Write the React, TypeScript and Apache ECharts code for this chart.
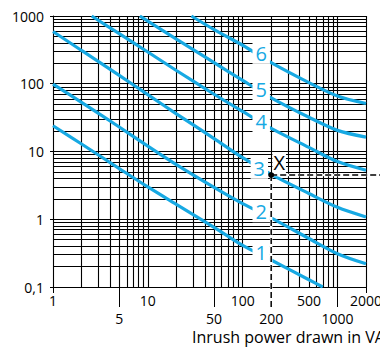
import React, { useEffect, useRef } from 'react';
import * as echarts from 'echarts';

// Curves (x = inrush power in VA, y = value)
const curve1: [number, number][] = [[1, 24], [2, 12.9], [5, 5.6], [10, 3.0], [20, 1.66], [50, 0.76], [100, 0.41], [200, 0.25], [500, 0.128], [700, 0.1]];
const curve2: [number, number][] = [[1, 99], [2, 53], [5, 23], [10, 12], [20, 6.4], [50, 2.95], [100, 1.7], [200, 1.05], [500, 0.52], [1000, 0.31], [2000, 0.22]];
const curve3: [number, number][] = [[1, 590], [2, 310], [5, 133], [10, 69], [20, 36], [50, 15.5], [100, 8.1], [200, 4.6], [500, 2.4], [1000, 1.5], [2000, 1.08]];
const curve4: [number, number][] = [[2.56, 1000], [5, 548], [10, 294], [20, 157], [50, 70], [100, 39], [200, 22], [500, 11.5], [1000, 7.1], [2000, 5.3]];
const curve5: [number, number][] = [[8.24, 1000], [10, 840], [20, 455], [50, 205], [100, 112], [200, 62], [500, 32], [1000, 20.5], [2000, 16.3]];
const curve6: [number, number][] = [[28.8, 1000], [50, 630], [100, 370], [200, 205], [500, 104], [1000, 66], [2000, 51]];

const curveNames = ['1', '2', '3', '4', '5', '6'];
const curveLabelPoints: [number, number][] = [[157, 0.325], [157, 1.29], [150, 5.65], [157, 27.5], [157, 81], [157, 281]];

const xLabelsRow1 = [1, 10, 100, 500, 2000];
const xLabelsRow2 = [5, 50, 200, 1000];
const xShortTicks = [1, 2000];
const xLongTicks = [5, 50, 1000];

const pointX: [number, number] = [200, 4.5];
const pointXLabel = 'X';
const xTitle = 'Inrush power drawn in VA';

const multipliers = [1, 2, 3, 4, 5, 6, 7, 8, 9];
const xDecades = [1, 10, 100];
const yDecades = [0.1, 1, 10, 100];
const gridX: number[] = [...xDecades.flatMap(d => multipliers.map(m => m * d)), 1000, 2000];
const gridY: number[] = [...yDecades.flatMap(d => multipliers.map(m => +(m * d).toPrecision(3))), 1000];

const BLUE = '#17A9E3';
const FONT = '"Open Sans", "DejaVu Sans", sans-serif';

export default function App() {
  const ref = useRef<HTMLDivElement>(null);
  useEffect(() => {
    if (!ref.current) return;
    const chart = echarts.init(ref.current, undefined, { renderer: 'svg' });
    const curves = [curve1, curve2, curve3, curve4, curve5, curve6];
    const option: any = {
      animation: false,
      grid: { left: 53, top: 16, width: 313, height: 271, containLabel: false },
      xAxis: {
        type: 'log', logBase: 10, min: 1, max: 2000,
        axisLine: { show: true, lineStyle: { color: '#000', width: 1 } },
        axisTick: { show: false },
        axisLabel: { show: false },
        splitLine: { show: false },
      },
      yAxis: {
        type: 'log', logBase: 10, min: 0.1, max: 1000,
        axisLine: { show: true, lineStyle: { color: '#000', width: 1 } },
        axisTick: { show: true, length: 3, lineStyle: { color: '#000' } },
        axisLabel: {
          show: true, margin: 9, color: '#000', fontSize: 14, fontFamily: FONT,
          formatter: (v: number) => String(+v.toPrecision(6)).replace('.', ','),
        },
        splitLine: { show: false },
      },
      series: [
        {
          type: 'line', data: [], silent: true, z: 1,
          markLine: {
            silent: true, symbol: ['none', 'none'], z: 1, animation: false,
            label: { show: false },
            lineStyle: { color: '#000', width: 1.1, type: 'solid', opacity: 1 },
            emphasis: { disabled: true },
            data: [
              ...gridX.map(v => ({ xAxis: v })),
              ...gridY.map(v => ({ yAxis: v })),
            ],
          },
        },
        ...curves.map((c, i) => ({
          type: 'line', name: curveNames[i], data: c, z: 3,
          smooth: 0.3, showSymbol: false, symbol: 'none', silent: true,
          lineStyle: { color: BLUE, width: 3.2 },
        })),
        {
          type: 'scatter', z: 6, silent: true, symbolSize: 1,
          itemStyle: { color: 'transparent', opacity: 1 },
          data: curveLabelPoints.map((p, i) => ({
            value: p,
            label: {
              show: true, position: 'inside', formatter: curveNames[i],
              color: BLUE, opacity: 1, fontSize: 20, fontFamily: FONT, lineHeight: 20,
              backgroundColor: '#fff', padding: [1, 3, 0, 3],
            },
          })),
        },
      ],
    };
    chart.setOption(option);

    const toPx = (x: number, y: number) => chart.convertToPixel({ gridIndex: 0 }, [x, y]) as number[];
    const bottom = toPx(1, 0.1)[1];
    const graphics: any[] = [];
    const textStyle = (text: string, size: number, align = 'center') => ({
      text, fill: '#000', font: `${size}px ${FONT}`, fontSize: size, fontFamily: FONT, align, verticalAlign: 'middle',
    });
    xLabelsRow1.forEach(v => {
      const px = toPx(v, 0.1)[0];
      graphics.push({ type: 'text', x: px, y: bottom + 13, z: 20, style: textStyle(String(v), 14) });
    });
    xLabelsRow2.forEach(v => {
      const px = toPx(v, 0.1)[0];
      graphics.push({ type: 'text', x: px, y: bottom + 31, z: 20, style: textStyle(String(v), 14) });
    });
    xShortTicks.forEach(v => {
      const px = Math.round(toPx(v, 0.1)[0]) + 0.5;
      graphics.push({ type: 'line', z: 20, shape: { x1: px, y1: bottom, x2: px, y2: bottom + 6 }, style: { stroke: '#000', lineWidth: 1 } });
    });
    xLongTicks.forEach(v => {
      const px = Math.round(toPx(v, 0.1)[0]) + 0.5;
      graphics.push({ type: 'line', z: 20, shape: { x1: px, y1: bottom, x2: px, y2: bottom + 20 }, style: { stroke: '#000', lineWidth: 1 } });
    });
    const [dx, dy] = toPx(pointX[0], pointX[1]);
    const width = chart.getWidth();
    graphics.push({ type: 'line', z: 18, shape: { x1: dx, y1: dy, x2: dx, y2: bottom + 20 }, style: { stroke: '#fff', lineWidth: 2.5 } });
    graphics.push({ type: 'line', z: 19, shape: { x1: dx, y1: dy, x2: dx, y2: bottom + 20 }, style: { stroke: '#000', lineWidth: 1.5, lineDash: [6, 3] } });
    graphics.push({ type: 'line', z: 18, shape: { x1: dx, y1: dy, x2: width, y2: dy }, style: { stroke: '#fff', lineWidth: 2.5 } });
    graphics.push({ type: 'line', z: 19, shape: { x1: dx, y1: dy, x2: width, y2: dy }, style: { stroke: '#000', lineWidth: 1.5, lineDash: [6, 3] } });
    graphics.push({ type: 'circle', z: 21, shape: { cx: dx, cy: dy, r: 3 }, style: { fill: '#000' } });
    graphics.push({ type: 'text', z: 21, x: dx + 8, y: dy - 12, style: { ...textStyle(pointXLabel, 20), backgroundColor: '#fff', padding: [0, 1] } });
    graphics.push({ type: 'text', z: 21, x: 192, y: bottom + 50, style: textStyle(xTitle, 16, 'left') });
    chart.setOption({ graphic: graphics });

    return () => chart.dispose();
  }, []);
  return <div ref={ref} style={{ position: 'fixed', left: 0, top: 0, width: 380, height: 347, background: '#fff' }} />;
}
